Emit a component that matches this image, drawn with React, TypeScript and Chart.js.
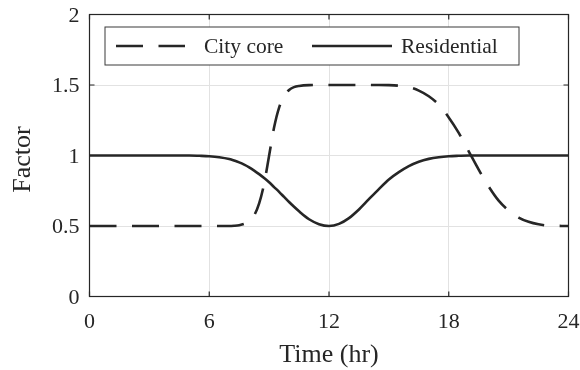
import React, { useEffect, useRef } from "react";
import { Chart, registerables } from "chart.js";

Chart.register(...registerables);

// Hour of day (finer steps around the morning transition)
const hours = [
  0, 1, 2, 3, 4, 5, 5.5, 6, 6.5, 7, 7.25, 7.5, 7.75, 8, 8.25, 8.5, 8.75, 9,
  9.25, 9.5, 9.75, 10, 10.25, 10.5, 11, 11.5, 12, 12.5, 13, 13.5, 14, 14.5, 15,
  15.5, 16, 16.5, 17, 17.5, 18, 18.5, 19, 19.5, 20, 20.5, 21, 21.5, 22, 22.5,
  23, 24,
];

// Demand factor for the city core (dashed)
const cityCore = [
  0.5, 0.5, 0.5, 0.5, 0.5, 0.5, 0.5, 0.5, 0.5, 0.5, 0.502, 0.506, 0.515, 0.533,
  0.575, 0.66, 0.8, 1.0, 1.2, 1.34, 1.42, 1.465, 1.485, 1.493, 1.499, 1.5, 1.5,
  1.5, 1.5, 1.5, 1.5, 1.5, 1.499, 1.495, 1.485, 1.46, 1.42, 1.36, 1.27, 1.16,
  1.03, 0.9, 0.78, 0.68, 0.61, 0.56, 0.53, 0.512, 0.503, 0.5,
];

// Demand factor for residential areas (solid)
const residential = [
  1, 1, 1, 1, 1, 1, 0.998, 0.995, 0.988, 0.975, 0.964, 0.951, 0.935, 0.916,
  0.893, 0.868, 0.84, 0.81, 0.776, 0.742, 0.706, 0.67, 0.636, 0.604, 0.548,
  0.513, 0.5, 0.515, 0.556, 0.617, 0.69, 0.762, 0.83, 0.882, 0.925, 0.956,
  0.976, 0.988, 0.995, 0.998, 1, 1, 1, 1, 1, 1, 1, 1, 1, 1,
];

const xTicks = [0, 6, 12, 18, 24];
const yTicks = [0, 0.5, 1, 1.5, 2];
const seriesNames = ["City core", "Residential"];
const xTitle = "Time (hr)";
const yTitle = "Factor";

const INK = "#262626";
const GRID = "#e2e2e2";
const SERIF = "'Liberation Serif', 'Times New Roman', serif";

// Boxed axes with inward ticks, a boxed legend and the axis titles
const decorPlugin = {
  id: "decor",
  afterDatasetsDraw(chart: any) {
    const { ctx, chartArea: a, scales } = chart;
    ctx.save();

    // frame on all four sides
    ctx.strokeStyle = INK;
    ctx.lineWidth = 1.2;
    ctx.setLineDash([]);
    ctx.strokeRect(a.left, a.top, a.right - a.left, a.bottom - a.top);

    // inward tick marks
    const tl = 5;
    ctx.beginPath();
    xTicks.forEach((v) => {
      const px = scales.x.getPixelForValue(v);
      ctx.moveTo(px, a.bottom);
      ctx.lineTo(px, a.bottom - tl);
      ctx.moveTo(px, a.top);
      ctx.lineTo(px, a.top + tl);
    });
    yTicks.forEach((v) => {
      const py = scales.y.getPixelForValue(v);
      ctx.moveTo(a.left, py);
      ctx.lineTo(a.left + tl, py);
      ctx.moveTo(a.right, py);
      ctx.lineTo(a.right - tl, py);
    });
    ctx.stroke();

    // legend box
    const bx = a.left + 15.5;
    const by = a.top + 12.5;
    const bw = 414;
    const bh = 38;
    ctx.fillStyle = "#ffffff";
    ctx.fillRect(bx, by, bw, bh);
    ctx.strokeStyle = "#3a3a3a";
    ctx.lineWidth = 1;
    ctx.strokeRect(bx, by, bw, bh);

    const midY = by + bh / 2;
    const ds = chart.data.datasets;
    const entries = [
      { x0: bx + 11, x1: bx + 80, tx: bx + 99 },
      { x0: bx + 207, x1: bx + 287, tx: bx + 296 },
    ];
    entries.forEach((e, i) => {
      const d = ds[i];
      ctx.strokeStyle = d.borderColor;
      ctx.lineWidth = d.borderWidth;
      ctx.setLineDash(d.borderDash || []);
      ctx.lineDashOffset = 0;
      ctx.beginPath();
      ctx.moveTo(e.x0, midY);
      ctx.lineTo(e.x1, midY);
      ctx.stroke();
      ctx.setLineDash([]);
      ctx.fillStyle = INK;
      ctx.font = `21.5px ${SERIF}`;
      ctx.textAlign = "left";
      ctx.textBaseline = "alphabetic";
      ctx.fillText(d.label, e.tx, midY + 7);
    });

    // axis titles
    ctx.fillStyle = INK;
    ctx.font = `26px ${SERIF}`;
    ctx.textAlign = "center";
    ctx.textBaseline = "alphabetic";
    ctx.fillText(xTitle, (a.left + a.right) / 2, 361.5);

    ctx.save();
    ctx.translate(29.5, (a.top + a.bottom) / 2 + 4);
    ctx.rotate(-Math.PI / 2);
    ctx.fillText(yTitle, 0, 0);
    ctx.restore();

    ctx.restore();
  },
};

// Fix each axis' thickness and drop the extra room Chart.js reserves for
// labels that overhang the plot edges, so the layout padding alone places it.
const fixAxis = (size: number) => (s: any) => {
  if (s.isHorizontal()) s.height = size;
  else s.width = size;
  s.paddingTop = 0;
  s.paddingBottom = 0;
  s.paddingLeft = 0;
  s.paddingRight = 0;
};

export default function App() {
  const canvasRef = useRef<HTMLCanvasElement | null>(null);

  useEffect(() => {
    const canvas = canvasRef.current;
    if (!canvas) return;

    const toPoints = (ys: number[]) => hours.map((h, i) => ({ x: h, y: ys[i] }));

    const chart = new Chart(canvas, {
      type: "line",
      data: {
        datasets: [
          {
            label: seriesNames[0],
            data: toPoints(cityCore),
            borderColor: INK,
            borderWidth: 2.6,
            borderDash: [27, 15.5],
            borderCapStyle: "butt",
            borderJoinStyle: "round",
            pointRadius: 0,
            cubicInterpolationMode: "monotone",
            fill: false,
          },
          {
            label: seriesNames[1],
            data: toPoints(residential),
            borderColor: INK,
            borderWidth: 2.6,
            borderCapStyle: "butt",
            borderJoinStyle: "round",
            pointRadius: 0,
            cubicInterpolationMode: "monotone",
            fill: false,
          },
        ],
      },
      options: {
        animation: false,
        responsive: false,
        devicePixelRatio: 1,
        layout: { padding: { top: 14.5, right: 11.5, left: 0, bottom: 0 } },
        plugins: {
          legend: { display: false },
          tooltip: { enabled: false },
        },
        scales: {
          x: {
            type: "linear",
            min: 0,
            max: 24,
            afterBuildTicks: (s: any) => {
              s.ticks = xTicks.map((v) => ({ value: v }));
            },
            afterFit: fixAxis(73.5),
            grid: { color: GRID, lineWidth: 1, drawTicks: false },
            border: { display: false },
            ticks: {
              padding: 13,
              color: INK,
              maxRotation: 0,
              font: { family: SERIF, size: 22 },
              callback: (v: any) => String(v),
            },
          },
          y: {
            type: "linear",
            min: 0,
            max: 2,
            afterBuildTicks: (s: any) => {
              s.ticks = yTicks.map((v) => ({ value: v }));
            },
            afterFit: fixAxis(89.5),
            grid: { color: GRID, lineWidth: 1, drawTicks: false },
            border: { display: false },
            ticks: {
              padding: 10,
              labelOffset: 1.5,
              color: INK,
              font: { family: SERIF, size: 22 },
              callback: (v: any) => String(v),
            },
          },
        },
      },
      plugins: [decorPlugin],
    } as any);

    return () => chart.destroy();
  }, []);

  return (
    <div style={{ position: "fixed", left: 0, top: 0, width: 580, height: 370, background: "#fff" }}>
      <canvas ref={canvasRef} width={580} height={370} style={{ display: "block" }} />
    </div>
  );
}
